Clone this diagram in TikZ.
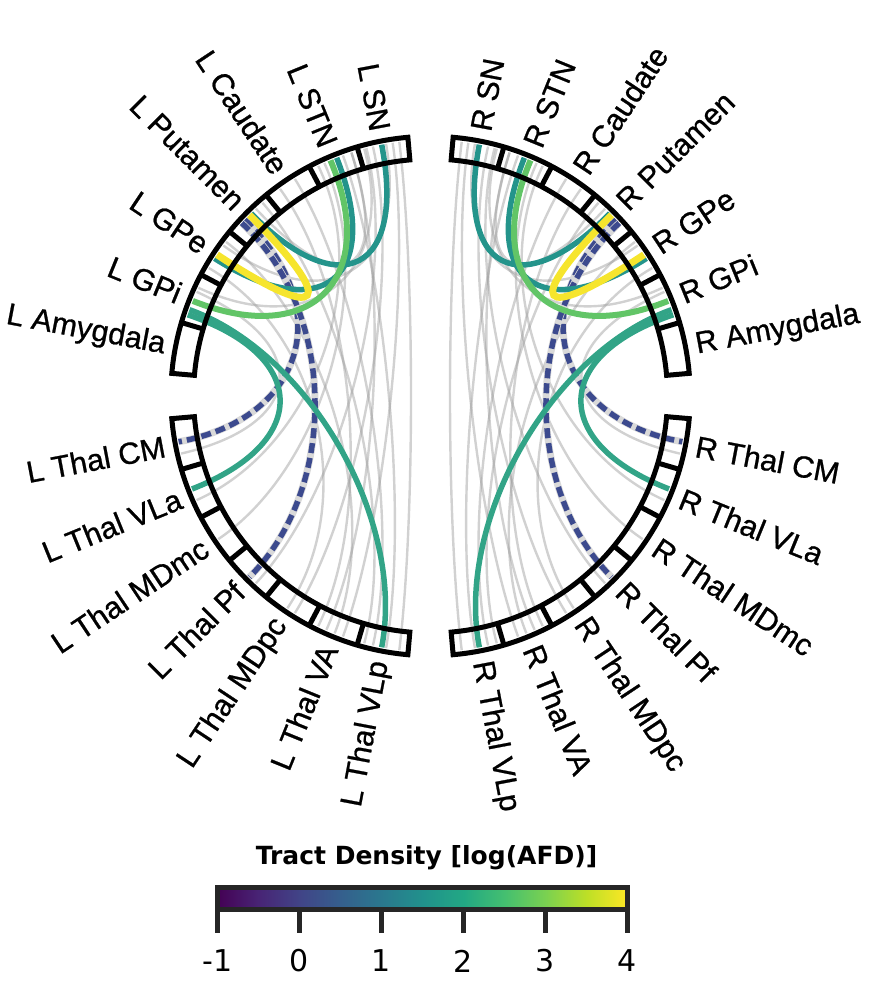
\documentclass[tikz,border=0pt]{standalone}
\usepackage{fontspec}
\setmainfont{Liberation Sans}
\newfontfamily\labfont{Liberation Sans}[FakeBold=0.8]
\newfontfamily\djv{DejaVu Sans}
\usetikzlibrary{calc}
\definecolor{ctealD}{RGB}{36,148,139}
\definecolor{cteal}{RGB}{50,164,135}
\definecolor{cgreen}{RGB}{98,197,103}
\definecolor{cyellow}{RGB}{246,229,45}
\definecolor{cdash}{RGB}{60,74,142}
\definecolor{vA}{HTML}{440154}
\definecolor{vB}{HTML}{482475}
\definecolor{vC}{HTML}{414487}
\definecolor{vD}{HTML}{355F8D}
\definecolor{vE}{HTML}{2A788E}
\definecolor{vF}{HTML}{21918C}
\definecolor{vG}{HTML}{22A884}
\definecolor{vH}{HTML}{44BF70}
\definecolor{vI}{HTML}{7AD151}
\definecolor{vJ}{HTML}{BDDF26}
\definecolor{vK}{HTML}{FDE725}
\pgfdeclarehorizontalshading{viridis}{100bp}{color(0bp)=(vA); color(25bp)=(vA); color(30bp)=(vB); color(35bp)=(vC); color(40bp)=(vD); color(45bp)=(vE); color(50bp)=(vF); color(55bp)=(vG); color(60bp)=(vH); color(65bp)=(vI); color(70bp)=(vJ); color(75bp)=(vK); color(100bp)=(vK)}
\def\Ro{259.7}
\def\Ri{237}
\def\rE{256}
\def\rK{128}
\newcommand\chordline[3]{%
  \coordinate (ca) at (#2:\rE);
  \coordinate (cb) at (#3:\rE);
  \coordinate (ka) at (#2:\rK);
  \coordinate (kb) at (#3:\rK);
  \draw[#1] (ca) .. controls (ka) and (kb) .. (cb);}
\newcommand\pairchord[3]{\chordline{#1}{#2}{#3}\chordline{#1}{180-#2}{180-#3}}
\newcommand\ringgroup[2]{%
  \draw[ringline] (#1:\Ro) arc[start angle=#1, end angle=#2, radius=\Ro] -- (#2:\Ri) arc[start angle=#2, end angle=#1, radius=\Ri] -- cycle;
  \foreach \k in {1,...,6} {\draw[ringline] ({#1+(#2-#1)*\k/7}:\Ri) -- ({#1+(#2-#1)*\k/7}:\Ro);}}
\begin{document}
\begin{tikzpicture}[x=1pt,y=1pt,
  ringline/.style={line width=5pt, black},
  graych/.style={line width=2.4pt, black!40, opacity=0.45},
  tealDch/.style={line width=5.5pt, ctealD},
  tealch/.style={line width=5.5pt, cteal},
  greench/.style={line width=6pt, cgreen},
  yellowch/.style={line width=7pt, cyellow},
  dashch/.style={line width=5.5pt, cdash, dash pattern=on 10pt off 5pt, preaction={draw=black!15, line width=7pt, solid}},
  lab/.style={font=\labfont\fontsize{30.5}{30.5}\selectfont, inner sep=0pt},
  tick/.style={line width=4.5pt, black!85}]
\useasboundingbox (0,0) rectangle (874,-1000);
\coordinate (C) at (430.5,-396);
\begin{scope}[shift={(C)}]
% gray chords
\pairchord{graych}{97}{263}
\pairchord{graych}{98.5}{250}
\pairchord{graych}{103}{238}
\pairchord{graych}{104.5}{227}
\pairchord{graych}{108}{246}
\pairchord{graych}{110}{260}
\pairchord{graych}{114.5}{214}
\pairchord{graych}{116}{204}
\pairchord{graych}{122}{257}
\pairchord{graych}{126}{244}
\pairchord{graych}{131}{255}
\pairchord{graych}{143}{248}
\pairchord{graych}{150}{236}
\pairchord{graych}{156}{193}
\pairchord{graych}{100}{144}
\pairchord{graych}{105}{155}
\pairchord{graych}{108}{133}
% dashed (low density)
\pairchord{dashch}{136.5}{190.3}
\pairchord{dashch}{137.5}{225}
% coloured chords
\pairchord{tealDch}{101}{134.5}
\pairchord{tealDch}{111.5}{147.5}
\pairchord{tealch}{160.3}{259}
\pairchord{tealch}{161.5}{201.3}
\pairchord{greench}{113}{158.2}
\pairchord{yellowch}{135}{146.5}
% ring
\ringgroup{95}{175}
\ringgroup{185}{265}
\ringgroup{85}{5}
\ringgroup{-5}{-85}
% labels left
\node[lab, anchor=east, rotate=100.71-180] (lsn) at (100.71:270) {L SN};
\node[lab, anchor=east, rotate=112.14-180] (lstn) at (112.14:270) {L STN};
\node[lab, anchor=east, rotate=123.57-180] (lcau) at (123.57:270) {L Caudate};
\node[lab, anchor=east, rotate=135-180] (lput) at (135:270) {L Putamen};
\node[lab, anchor=east, rotate=146.43-180] (lgpe) at (146.43:270) {L GPe};
\node[lab, anchor=east, rotate=157.86-180] (lgpi) at (157.86:270) {L GPi};
\node[lab, anchor=east, rotate=169.29-180] (lamy) at (169.29:270) {L Amygdala};
\node[lab, anchor=east, rotate=190.71-180] (lcm) at (190.71:270) {L Thal CM};
\node[lab, anchor=east, rotate=202.14-180] (lvla) at (202.14:270) {L Thal VLa};
\node[lab, anchor=east, rotate=213.57-180] (lmdmc) at (213.57:270) {L Thal MDmc};
\node[lab, anchor=east, rotate=225-180] (lpf) at (225:270) {L Thal Pf};
\node[lab, anchor=east, rotate=236.43-180] (lmdpc) at (236.43:270) {L Thal MDpc};
\node[lab, anchor=east, rotate=247.86-180] (lva) at (247.86:270) {L Thal VA};
\node[lab, anchor=east, rotate=259.29-180] (lvlp) at (259.29:270) {L Thal VLp};
% labels right
\node[lab, anchor=west, rotate=79.29] (rsn) at (79.29:270) {R SN};
\node[lab, anchor=west, rotate=67.86] (rstn) at (67.86:270) {R STN};
\node[lab, anchor=west, rotate=56.43] (rcau) at (56.43:270) {R Caudate};
\node[lab, anchor=west, rotate=45] (rput) at (45:270) {R Putamen};
\node[lab, anchor=west, rotate=33.57] (rgpe) at (33.57:270) {R GPe};
\node[lab, anchor=west, rotate=22.14] (rgpi) at (22.14:270) {R GPi};
\node[lab, anchor=west, rotate=10.71] (ramy) at (10.71:270) {R Amygdala};
\node[lab, anchor=west, rotate=-10.71] (rcm) at (-10.71:270) {R Thal CM};
\node[lab, anchor=west, rotate=-22.14] (rvla) at (-22.14:270) {R Thal VLa};
\node[lab, anchor=west, rotate=-33.57] (rmdmc) at (-33.57:270) {R Thal MDmc};
\node[lab, anchor=west, rotate=-45] (rpf) at (-45:270) {R Thal Pf};
\node[lab, anchor=west, rotate=-56.43] (rmdpc) at (-56.43:270) {R Thal MDpc};
\node[lab, anchor=west, rotate=-67.86] (rva) at (-67.86:270) {R Thal VA};
\node[lab, anchor=west, rotate=-79.29] (rvlp) at (-79.29:270) {R Thal VLp};
\end{scope}
% colour bar
\node[font=\djv\bfseries\fontsize{25}{25}\selectfont, inner sep=0pt] (title) at (426.5,-858) {Tract Density [log(AFD)]};
\node[draw=black!85, line width=5pt, shading=viridis, minimum width=410pt, minimum height=22pt, inner sep=0pt] (cbar) at (422.5,-898.5) {};
\foreach \i/\t in {0/-1,1/0,2/1,3/2,4/3,5/4}{
  \coordinate (tk\i) at (217.5+82*\i,-909.5);
  \draw[tick] (tk\i) -- ++(0,-23.5);
  \node[font=\djv\fontsize{30}{30}\selectfont, inner sep=0pt] (tl\i) at (217.5+82*\i,-961) {\t};
}
\end{tikzpicture}
\end{document}
